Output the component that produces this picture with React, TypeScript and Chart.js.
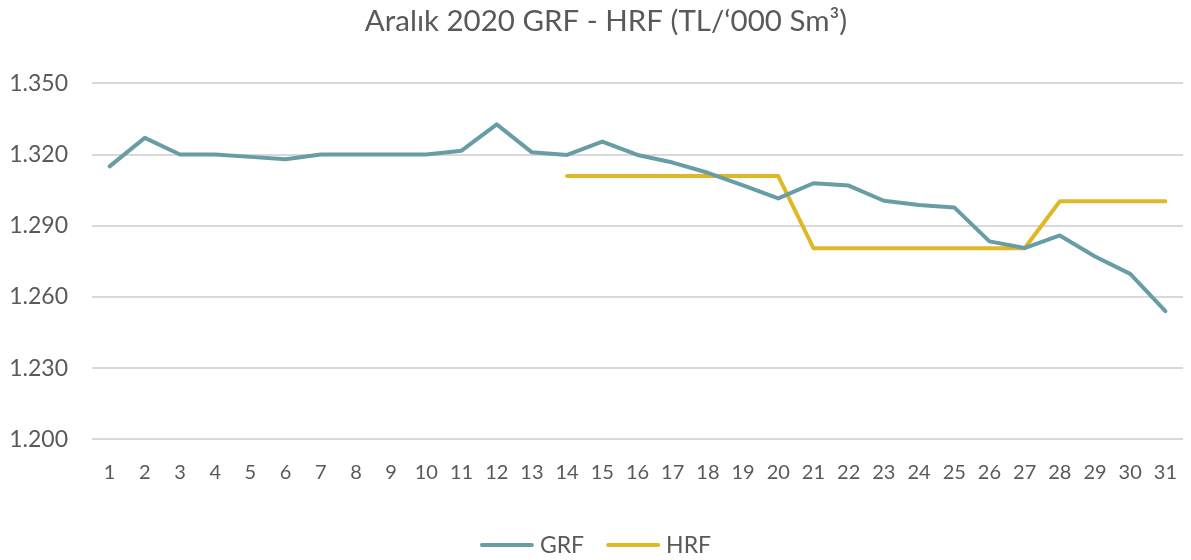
import React, { useEffect, useRef } from "react";
import { Chart, registerables } from "chart.js";

Chart.register(...registerables);

const days: string[] = [
  "1", "2", "3", "4", "5", "6", "7", "8", "9", "10",
  "11", "12", "13", "14", "15", "16", "17", "18", "19", "20",
  "21", "22", "23", "24", "25", "26", "27", "28", "29", "30", "31",
];

const grf: number[] = [
  1315, 1327, 1320, 1320, 1319, 1318, 1320, 1320, 1320, 1320,
  1321.6, 1332.7, 1320.9, 1319.8, 1325.4, 1319.8, 1316.6, 1312.3, 1307, 1301.5,
  1307.9, 1306.9, 1300.5, 1298.7, 1297.7, 1283.4, 1280.6, 1285.9, 1277, 1269.7, 1254,
];

const hrf: (number | null)[] = [
  null, null, null, null, null, null, null, null, null, null,
  null, null, null, 1310.9, 1310.9, 1310.9, 1310.9, 1310.9, 1310.9, 1310.9,
  1280.5, 1280.5, 1280.5, 1280.5, 1280.5, 1280.5, 1280.5, 1300.3, 1300.3, 1300.3, 1300.3,
];

const yTicks: number[] = [1200, 1230, 1260, 1290, 1320, 1350];

const titleText = "Aralık 2020 GRF - HRF (TL/\u2018000 Sm\u00b3)";
const FONT = "Lato";
const TEXT = "#595959";
const LEGEND_FONT_SIZE = 23;
const TITLE_FONT_SIZE = 29.5;

const fmt = (v: number) => {
  const s = Math.round(v).toString();
  return s.length > 3 ? s.slice(0, s.length - 3) + "." + s.slice(-3) : s;
};

// Title drawn on the canvas (slightly right of centre, as in the original)
const topTitle = {
  id: "topTitle",
  afterDraw(chart: any) {
    const ctx = chart.ctx as CanvasRenderingContext2D;
    ctx.save();
    ctx.font = `${TITLE_FONT_SIZE}px ${FONT}`;
    ctx.fillStyle = TEXT;
    ctx.textAlign = "center";
    ctx.textBaseline = "middle";
    ctx.fillText(titleText, 606, 21);
    ctx.restore();
  },
};

// Custom legend drawn on the canvas, from the datasets
const bottomLegend = {
  id: "bottomLegend",
  afterDraw(chart: any) {
    const ctx = chart.ctx as CanvasRenderingContext2D;
    const ds = chart.data.datasets;
    const lineW = 54;
    const gapText = 6;
    const gapItem = 22;
    const y = 545;
    ctx.save();
    ctx.font = `${LEGEND_FONT_SIZE}px ${FONT}`;
    const widths = ds.map((d: any) => lineW + gapText + ctx.measureText(d.label).width);
    const total = widths.reduce((a: number, b: number) => a + b, 0) + gapItem * (ds.length - 1);
    let x = chart.width / 2 - total / 2;
    ds.forEach((d: any, i: number) => {
      ctx.strokeStyle = d.borderColor;
      ctx.lineWidth = d.borderWidth;
      ctx.lineCap = "round";
      ctx.beginPath();
      ctx.moveTo(x + 2, y);
      ctx.lineTo(x + lineW - 2, y);
      ctx.stroke();
      ctx.fillStyle = TEXT;
      ctx.textBaseline = "middle";
      ctx.textAlign = "left";
      ctx.fillText(d.label, x + lineW + gapText, y + 1);
      x += widths[i] + gapItem;
    });
    ctx.restore();
  },
};

export default function App() {
  const ref = useRef<HTMLCanvasElement | null>(null);
  useEffect(() => {
    if (!ref.current) return;
    const chart = new Chart(ref.current, {
      type: "line",
      data: {
        labels: days,
        datasets: [
          {
            label: "GRF",
            data: grf,
            borderColor: "#689DA6",
            backgroundColor: "#689DA6",
            borderWidth: 4,
            pointRadius: 0,
            borderCapStyle: "round",
            borderJoinStyle: "round",
            tension: 0,
          },
          {
            label: "HRF",
            data: hrf,
            borderColor: "#DFB827",
            backgroundColor: "#DFB827",
            borderWidth: 4,
            pointRadius: 0,
            borderCapStyle: "round",
            borderJoinStyle: "round",
            tension: 0,
          },
        ],
      },
      options: {
        responsive: true,
        maintainAspectRatio: false,
        animation: false,
        layout: { padding: { left: 0, right: 8, top: 83.3, bottom: 0 } },
        plugins: {
          title: { display: false },
          legend: { display: false },
          tooltip: { enabled: false },
        },
        scales: {
          x: {
            offset: true,
            grid: {
              display: true,
              drawOnChartArea: false,
              drawTicks: true,
              tickLength: 21,
              color: "rgba(0,0,0,0)",
            },
            border: { display: false },
            ticks: {
              color: TEXT,
              font: { family: FONT, size: 20 },
              autoSkip: false,
              maxRotation: 0,
              padding: 0,
            },
            afterFit: (s: any) => {
              s.height = 120.7;
            },
          },
          y: {
            min: 1200,
            max: 1350,
            afterBuildTicks: (s: any) => {
              s.ticks = yTicks.map((v) => ({ value: v }));
            },
            grid: { color: "#D9D9D9", lineWidth: 2, drawTicks: false },
            border: { display: false },
            ticks: {
              color: TEXT,
              font: { family: FONT, size: 23 },
              padding: 24,
              callback: (v: any) => fmt(Number(v)),
            },
            afterFit: (s: any) => {
              s.width = 92;
            },
          },
        },
      },
      plugins: [topTitle, bottomLegend],
    });
    return () => chart.destroy();
  }, []);
  return (
    <div style={{ position: "absolute", left: 0, top: 0, width: 1191, height: 560, background: "#fff" }}>
      <canvas ref={ref} />
    </div>
  );
}
